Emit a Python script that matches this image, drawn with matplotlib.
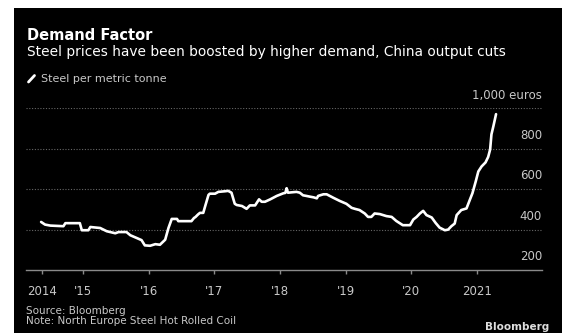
import matplotlib
matplotlib.use("Agg")
import matplotlib.pyplot as plt
from matplotlib.patches import Rectangle
from matplotlib.lines import Line2D

# North Europe hot rolled coil price, euros per metric tonne (decimal years)
dates = [2014.36, 2014.42, 2014.50, 2014.70, 2014.73, 2014.95, 2014.98, 2015.08,
         2015.11, 2015.26, 2015.36, 2015.49, 2015.54, 2015.66, 2015.72, 2015.82,
         2015.89, 2015.94, 2016.02, 2016.10, 2016.17, 2016.25, 2016.30, 2016.35,
         2016.43, 2016.45, 2016.65, 2016.69, 2016.71, 2016.75, 2016.78, 2016.83,
         2016.86, 2016.91, 2016.93, 2017.01, 2017.06, 2017.16, 2017.21, 2017.26,
         2017.31, 2017.34, 2017.42, 2017.49, 2017.54, 2017.62, 2017.68, 2017.72,
         2017.77, 2017.85, 2017.95, 2018.05, 2018.08, 2018.10, 2018.12, 2018.25,
         2018.30, 2018.35, 2018.40, 2018.46, 2018.51, 2018.56, 2018.58, 2018.66,
         2018.71, 2018.81, 2018.91, 2019.01, 2019.09, 2019.14, 2019.21, 2019.29,
         2019.34, 2019.39, 2019.44, 2019.52, 2019.62, 2019.70, 2019.77, 2019.87,
         2019.98, 2020.03, 2020.08, 2020.13, 2020.18, 2020.23, 2020.31, 2020.37,
         2020.43, 2020.51, 2020.56, 2020.61, 2020.66, 2020.69, 2020.76, 2020.84,
         2020.89, 2020.93, 2020.98, 2021.02, 2021.07, 2021.13, 2021.17, 2021.20,
         2021.22, 2021.25, 2021.29]
price = [438, 425, 420, 417, 432, 432, 397, 397,
         413, 408, 392, 382, 388, 388, 372, 358,
         348, 322, 320, 328, 325, 350, 408, 453,
         453, 442, 442, 458, 462, 475, 483, 483,
         517, 572, 578, 578, 587, 590, 592, 583,
         528, 522, 517, 503, 520, 520, 550, 538,
         538, 550, 567, 580, 582, 605, 583, 587,
         583, 570, 567, 563, 560, 555, 567, 575,
         575, 558, 542, 528, 508, 503, 497, 480,
         463, 463, 480, 477, 467, 463, 443, 422,
         422, 450, 463, 480, 493, 472, 460, 433,
         410, 397, 400, 417, 430, 472, 497, 505,
         547, 580, 638, 688, 713, 733, 760, 797,
         872, 913, 972]

tick_years = [2014.37, 2015, 2016, 2017, 2018, 2019, 2020, 2021]
tick_labels = ["2014", "'15", "'16", "'17", "'18", "'19", "'20", "2021"]
grid_values = [400, 600, 800, 1000]
value_labels = [200, 400, 600, 800, 1000]
value_texts = ["200", "400", "600", "800", "1,000 euros"]

W, H = 562, 333
fig = plt.figure(figsize=(W / 100, H / 100), dpi=100, facecolor="white")

# black panel with a thin white margin on the top and left
fig.patches.append(Rectangle((14 / W, 0), 1 - 14 / W, 1 - 8 / H,
                             transform=fig.transFigure, facecolor="black",
                             edgecolor="none", zorder=-10))

ax = fig.add_axes([26 / W, 63 / H, (542 - 26) / W, (270 - 108.5) / H])
ax.set_facecolor("none")
ax.set_xlim(2014.13, 2021.99)
ax.set_ylim(200, 1000)

for v in grid_values:
    ax.axhline(v, color="#666666", lw=0.8, ls=(0, (1, 1.5)), zorder=1)

ax.plot(dates, price, color="white", lw=1.9, solid_joinstyle="round",
        solid_capstyle="round", zorder=3, clip_on=False)

for s in ["top", "right", "left"]:
    ax.spines[s].set_visible(False)
ax.spines["bottom"].set_color("#8a8a8a")
ax.spines["bottom"].set_linewidth(1.0)

ax.set_yticks([])
ax.set_xticks(tick_years)
ax.set_xticklabels(tick_labels)
ax.tick_params(axis="x", length=3, width=1.0, color="#8a8a8a",
               labelcolor="#c8c8c8", labelsize=8.5, pad=8)

for v, t in zip(value_labels, value_texts):
    ax.annotate(t, xy=(1.0, v), xycoords=("axes fraction", "data"),
                xytext=(0, 5), textcoords="offset points",
                ha="right", va="bottom", color="#c8c8c8", fontsize=8.5)


def fx(px):
    return px / W


def fy(py):
    return 1 - py / H


fig.text(fx(27), fy(40), "Demand Factor", color="white", fontsize=10.5,
         fontweight="bold", va="baseline", ha="left")
fig.text(fx(27), fy(56), "Steel prices have been boosted by higher demand, China output cuts",
         color="white", fontsize=9.9, va="baseline", ha="left")

# legend key
fig.lines.append(Line2D([fx(28.5), fx(34.5)], [fy(82), fy(75.5)], color="white",
                        lw=2.0, solid_capstyle="round", transform=fig.transFigure))
fig.text(fx(41), fy(82), "Steel per metric tonne", color="#c8c8c8", fontsize=8,
         va="baseline", ha="left")

fig.text(fx(26), fy(314), "Source: Bloomberg", color="#c8c8c8", fontsize=7.5,
         va="baseline", ha="left")
fig.text(fx(26), fy(324), "Note: North Europe Steel Hot Rolled Coil", color="#c8c8c8",
         fontsize=7.5, va="baseline", ha="left")
fig.text(fx(549), fy(330), "Bloomberg", color="#dddddd", fontsize=7.5,
         fontweight="bold", va="baseline", ha="right")

fig.savefig("out.png", dpi=100, facecolor="white")
